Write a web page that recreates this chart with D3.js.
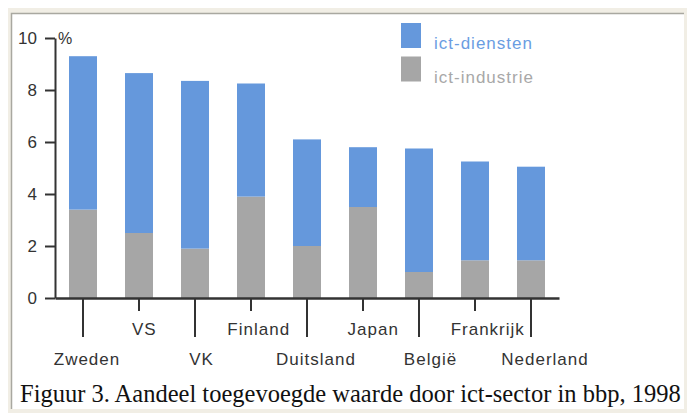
<!DOCTYPE html>
<html>
<head>
<meta charset="utf-8">
<script src="https://cdn.jsdelivr.net/npm/d3@7"></script>
<style>
  body { margin: 0; background: #fff; }
  svg { display: block; }
</style>
</head>
<body>
<div id="chart"></div>
<script>

var countries = ["Zweden", "VS", "VK", "Finland", "Duitsland", "Japan", "België", "Frankrijk", "Nederland"];
var industrie = [3.4, 2.5, 1.9, 3.9, 2.0, 3.5, 1.0, 1.45, 1.45];
var diensten = [5.9, 6.15, 6.45, 4.35, 4.1, 2.3, 4.75, 3.8, 3.6];
var yTicks = [0, 2, 4, 6, 8, 10];
var series = ["ict-diensten", "ict-industrie"];

var width = 688, height = 416;
var blue = "#6598dc", grey = "#a6a6a6";

var data = countries.map(function(c, i) {
  return { land: c, industrie: industrie[i], diensten: diensten[i] };
});

var svg = d3.select("#chart").append("svg")
  .attr("width", width)
  .attr("height", height);

// frame
svg.append("rect")
  .attr("x", 8).attr("y", 8).attr("width", 679).attr("height", 405)
  .attr("fill", "#f1eee5");
svg.append("rect")
  .attr("x", 11).attr("y", 13).attr("width", 673).attr("height", 396)
  .attr("fill", "#fff");
svg.append("path")
  .attr("d", "M11.5,409V13.5H684")
  .attr("fill", "none").attr("stroke", "#a9a8a0").attr("stroke-width", 1.5);

var x = d3.scaleBand()
  .domain(countries)
  .range([55, 559])
  .paddingInner(0.5)
  .paddingOuter(0.25);

var y = d3.scaleLinear().domain([0, 10]).range([298, 38]);

// labels sit a bit right of the ticks in the original
var labelX = d3.scalePoint().domain(countries).range([87, 545]);

var stack = d3.stack().keys(["industrie", "diensten"])(data);

svg.append("g").selectAll("g")
  .data(stack)
  .enter().append("g")
  .attr("fill", function(d) { return d.key == "industrie" ? grey : blue; })
  .selectAll("rect")
  .data(function(d) { return d; })
  .enter().append("rect")
  .attr("x", function(d) { return x(d.data.land); })
  .attr("y", function(d) { return y(d[1]); })
  .attr("width", x.bandwidth())
  .attr("height", function(d) { return y(d[0]) - y(d[1]); });

// y axis
var yAxis = svg.append("g")
  .attr("transform", "translate(55,0)")
  .call(d3.axisLeft(y).tickValues(yTicks).tickSize(10).tickPadding(8).tickSizeOuter(0));
yAxis.selectAll("line, path").attr("stroke", "#333").attr("stroke-width", 2);
yAxis.selectAll("text")
  .attr("font-family", "Liberation Sans, Arial, sans-serif")
  .attr("font-size", 17)
  .attr("fill", "#333");

svg.append("text")
  .attr("x", 58).attr("y", 44)
  .attr("font-family", "Liberation Sans, Arial, sans-serif")
  .attr("font-size", 16)
  .attr("fill", "#333")
  .text("%");

// x axis
var xAxis = svg.append("g")
  .attr("transform", "translate(0,298)")
  .call(d3.axisBottom(x).tickSize(0).tickSizeOuter(0).tickFormat(""));
xAxis.select(".domain").attr("stroke", "#333").attr("stroke-width", 2.5);
xAxis.selectAll(".tick line")
  .attr("stroke", "#333")
  .attr("stroke-width", 2)
  .attr("y2", function(d, i) { return i % 2 == 0 ? 39 : 13; });

svg.append("g").selectAll("text")
  .data(countries)
  .enter().append("text")
  .attr("x", function(d) { return labelX(d); })
  .attr("y", function(d, i) { return i % 2 == 0 ? 365 : 335; })
  .attr("text-anchor", "middle")
  .attr("font-family", "Liberation Sans, Arial, sans-serif")
  .attr("font-size", 17)
  .attr("letter-spacing", 1)
  .attr("fill", "#333")
  .text(function(d) { return d; });

// legend
var legend = svg.append("g").selectAll("g")
  .data(series)
  .enter().append("g")
  .attr("transform", function(d, i) { return "translate(401," + (23 + i * 33.5) + ")"; });
legend.append("rect")
  .attr("width", 20).attr("height", 25)
  .attr("fill", function(d, i) { return i == 0 ? blue : grey; });
legend.append("text")
  .attr("x", 33).attr("y", 26)
  .attr("font-family", "Liberation Sans, Arial, sans-serif")
  .attr("font-size", 17)
  .attr("letter-spacing", 1)
  .attr("fill", function(d, i) { return i == 0 ? "#6a9de2" : "#a8a8a8"; })
  .text(function(d) { return d; });

// caption
svg.append("text")
  .attr("x", 20).attr("y", 402)
  .attr("font-family", "Liberation Serif, Times New Roman, serif")
  .attr("font-size", 24.5)
  .attr("fill", "#111")
  .text("Figuur 3. Aandeel toegevoegde waarde door ict-sector in bbp, 1998");

</script>
</body>
</html>
